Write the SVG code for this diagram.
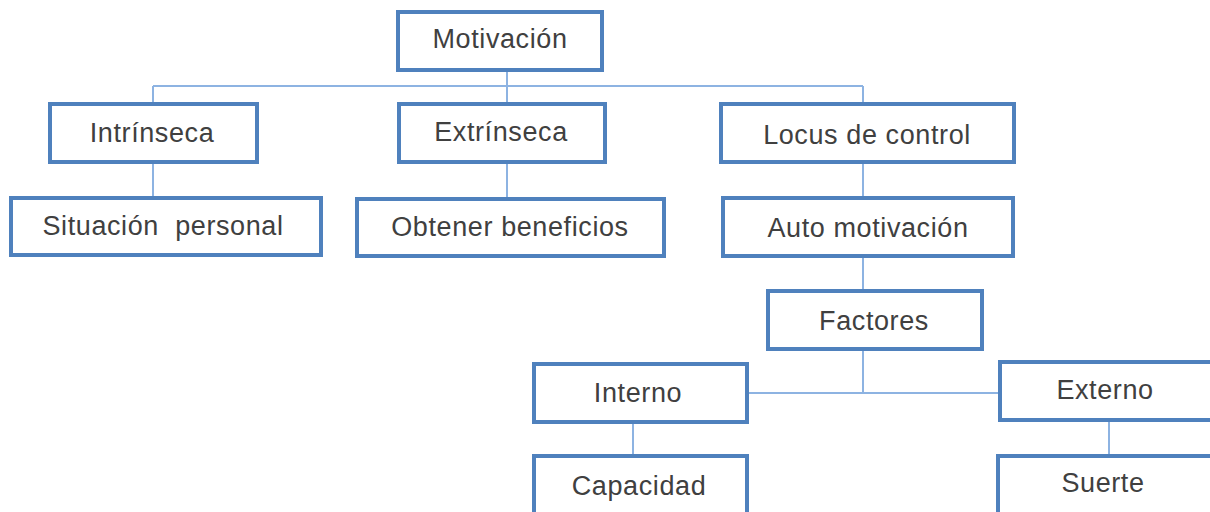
<svg xmlns="http://www.w3.org/2000/svg" width="1210" height="512" viewBox="0 0 1210 512">
<style>
.box{fill:#fff;stroke:#4F81BD;stroke-width:4}
.lbl{font-family:"Liberation Sans",Arial,sans-serif;font-size:27px;fill:#404040;text-anchor:middle;letter-spacing:0.6px}
.con{stroke:#8DB3E2;stroke-width:2;fill:none}
</style>
<rect width="1210" height="512" fill="#fff"/>
<g id="connectors">
<path class="con" d="M507 70V86M153 86H863M153 86V103M507 86V103M863 86V103"/>
<path class="con" d="M153 162V197M507 162V199M863 162V198M863 256V290"/>
<path class="con" d="M863 349V393M747 393H999M633 422V455M1109 420V455"/>
</g>
<g id="motivacion"><rect class="box" x="398" y="12" width="204" height="58"/><text class="lbl" x="500" y="48">Motivación</text></g>
<g id="intrinseca"><rect class="box" x="50" y="104" width="207" height="58"/><text class="lbl" x="152" y="142">Intrínseca</text></g>
<g id="extrinseca"><rect class="box" x="399" y="104" width="206" height="58"/><text class="lbl" x="501" y="141">Extrínseca</text></g>
<g id="locus"><rect class="box" x="721" y="104" width="293" height="58"/><text class="lbl" x="867" y="144">Locus de control</text></g>
<g id="situacion"><rect class="box" x="11" y="198" width="310" height="57"/><text class="lbl" x="163" y="235" xml:space="preserve" style="white-space:pre">Situación  personal</text></g>
<g id="obtener"><rect class="box" x="357" y="199" width="307" height="57"/><text class="lbl" x="510" y="236">Obtener beneficios</text></g>
<g id="auto"><rect class="box" x="723" y="198" width="290" height="58"/><text class="lbl" x="868" y="237">Auto motivación</text></g>
<g id="factores"><rect class="box" x="768" y="291" width="214" height="58"/><text class="lbl" x="874" y="330">Factores</text></g>
<g id="interno"><rect class="box" x="534" y="364" width="213" height="58"/><text class="lbl" x="638" y="402">Interno</text></g>
<g id="externo"><rect class="box" x="1000" y="362" width="215" height="58"/><text class="lbl" x="1105" y="399">Externo</text></g>
<g id="capacidad"><rect class="box" x="534" y="456" width="213" height="70"/><text class="lbl" x="639" y="495">Capacidad</text></g>
<g id="suerte"><rect class="box" x="998" y="456" width="217" height="70"/><text class="lbl" x="1103" y="492">Suerte</text></g>
</svg>
